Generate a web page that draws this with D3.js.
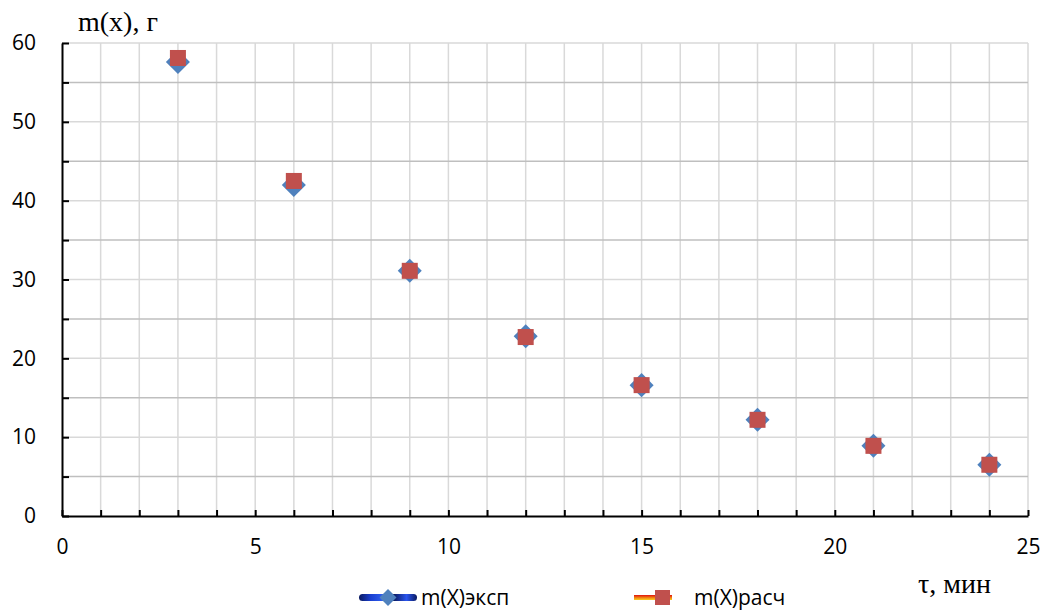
<!DOCTYPE html>
<html>
<head>
<meta charset="utf-8">
<script src="https://cdn.jsdelivr.net/npm/d3@7"></script>
<style>
  html, body { margin: 0; padding: 0; background: #fff; }
  svg { display: block; }
</style>
</head>
<body>
<svg id="chart" width="1047" height="612"></svg>
<script>
// time, min
const times = [3, 6, 9, 12, 15, 18, 21, 24];
// measured mass, g
const massExp = [57.6, 42.0, 31.1, 22.8, 16.6, 12.2, 8.9, 6.5];
// calculated mass, g
const massCalc = [58.1, 42.5, 31.1, 22.7, 16.6, 12.2, 8.9, 6.5];

const xLabelTicks = [0, 5, 10, 15, 20, 25];
const yLabelTicks = [0, 10, 20, 30, 40, 50, 60];
const xMinorTicks = d3.range(0, 26, 1);
const yMinorTicks = d3.range(0, 61, 5);

const seriesNames = ["m(X)эксп", "m(X)расч"];
const yTitle = "m(x), г";
const xTitle = "τ, мин";

const svg = d3.select("#chart");
const plotL = 62, plotT = 43, plotR = 1028, plotB = 516;

const x = d3.scaleLinear().domain([0, 25]).range([plotL, plotR]);
const y = d3.scaleLinear().domain([0, 60]).range([plotB, plotT]);

// gradients for legend lines
const defs = svg.append("defs");
const gBlue = defs.append("linearGradient").attr("id", "gBlue")
  .attr("x1", "0%").attr("x2", "100%").attr("y1", "0%").attr("y2", "0%");
[["0%", "#0a1a60"], ["20%", "#1a3fd0"], ["42%", "#3060f0"], ["52%", "#0a1a60"],
 ["60%", "#0a1a60"], ["82%", "#2a55ee"], ["100%", "#0a1a60"]]
  .forEach(([o, c]) => gBlue.append("stop").attr("offset", o).attr("stop-color", c));
const gRed = defs.append("linearGradient").attr("id", "gRed")
  .attr("x1", "0%").attr("x2", "0%").attr("y1", "0%").attr("y2", "100%");
[["0%", "#e01010"], ["50%", "#f07a10"], ["100%", "#f8d020"]]
  .forEach(([o, c]) => gRed.append("stop").attr("offset", o).attr("stop-color", c));

// vertical gridlines
svg.append("g").selectAll("line").data(xMinorTicks.filter(d => d > 0)).join("line")
  .attr("x1", d => x(d)).attr("x2", d => x(d))
  .attr("y1", plotT).attr("y2", plotB)
  .attr("stroke", "#d9d9d9").attr("stroke-width", 1.5);

// horizontal gridlines: half-steps darker than whole steps
svg.append("g").selectAll("line").data(yMinorTicks.filter(d => d > 0)).join("line")
  .attr("x1", plotL).attr("x2", plotR)
  .attr("y1", d => y(d)).attr("y2", d => y(d))
  .attr("stroke", d => d % 10 === 0 ? "#d9d9d9" : "#bfbfbf")
  .attr("stroke-width", 1.5);

// minor ticks (inside)
const xTickAxis = svg.append("g").attr("transform", `translate(0,${plotB})`)
  .call(d3.axisBottom(x).tickValues(xMinorTicks).tickSizeInner(-6).tickSizeOuter(0).tickFormat(""));
xTickAxis.select(".domain").attr("stroke", "#000").attr("stroke-width", 2);
xTickAxis.selectAll(".tick line").attr("stroke", "#000").attr("stroke-width", 2);

const yTickAxis = svg.append("g").attr("transform", `translate(${plotL},0)`)
  .call(d3.axisLeft(y).tickValues(yMinorTicks).tickSizeInner(-7).tickSizeOuter(0).tickFormat(""));
yTickAxis.select(".domain").attr("stroke", "#000").attr("stroke-width", 2);
yTickAxis.selectAll(".tick line").attr("stroke", "#000").attr("stroke-width", 2);

// tick labels
const labelFont = "'Open Sans', 'Liberation Sans', sans-serif";
const serifFont = "'Liberation Serif', 'Times New Roman', serif";
const xLab = svg.append("g").attr("transform", `translate(0,${plotB})`)
  .call(d3.axisBottom(x).tickValues(xLabelTicks).tickSize(0).tickPadding(23).tickFormat(d3.format("d")));
xLab.select(".domain").remove();
xLab.selectAll("text").attr("font-family", labelFont).attr("font-size", 21).attr("fill", "#000");

const yLab = svg.append("g").attr("transform", `translate(${plotL},0)`)
  .call(d3.axisLeft(y).tickValues(yLabelTicks).tickSize(0).tickPadding(26).tickFormat(d3.format("d")));
yLab.select(".domain").remove();
yLab.selectAll("text").attr("font-family", labelFont).attr("font-size", 21).attr("fill", "#000");

// markers
const diamond = d3.symbol().type(d3.symbolSquare).size(17 * 17);
svg.append("g").selectAll("path").data(times.map((t, i) => [t, massExp[i]])).join("path")
  .attr("d", diamond)
  .attr("transform", d => `translate(${x(d[0])},${y(d[1])}) rotate(45)`)
  .attr("fill", "#4f81bd");

svg.append("g").selectAll("rect").data(times.map((t, i) => [t, massCalc[i]])).join("rect")
  .attr("x", d => x(d[0]) - 8).attr("y", d => y(d[1]) - 8)
  .attr("width", 16).attr("height", 16)
  .attr("fill", "#c0504d");

// axis titles
svg.append("text").attr("x", 78).attr("y", 31)
  .attr("font-family", serifFont).attr("font-size", 28).attr("fill", "#000").text(yTitle);
svg.append("text").attr("x", 918).attr("y", 593)
  .attr("font-family", serifFont).attr("font-size", 28).attr("fill", "#000").text(xTitle);

// legend
const lg = svg.append("g");
lg.append("rect").attr("x", 359).attr("y", 594).attr("width", 58).attr("height", 7)
  .attr("rx", 3.5).attr("fill", "url(#gBlue)");
lg.append("path").attr("d", d3.symbol().type(d3.symbolSquare).size(12 * 12))
  .attr("transform", "translate(388,597.5) rotate(45)").attr("fill", "#4f81bd");
lg.append("text").attr("x", 421).attr("y", 605)
  .attr("font-family", labelFont).attr("font-size", 21).attr("fill", "#000").text(seriesNames[0]);

lg.append("rect").attr("x", 634).attr("y", 595).attr("width", 38).attr("height", 5)
  .attr("fill", "url(#gRed)");
lg.append("rect").attr("x", 655).attr("y", 590).attr("width", 15).attr("height", 15)
  .attr("fill", "#c0504d");
lg.append("text").attr("x", 694).attr("y", 605)
  .attr("font-family", labelFont).attr("font-size", 21).attr("fill", "#000").text(seriesNames[1]);
</script>
</body>
</html>
